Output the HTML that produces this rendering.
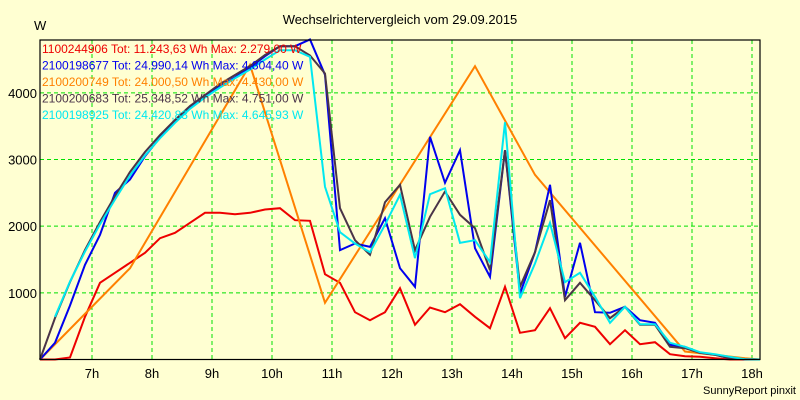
<!DOCTYPE html>
<html><head><meta charset="utf-8"><style>
html,body{margin:0;padding:0;background:#ffffd2;}
svg{display:block;font-family:"Liberation Sans",sans-serif;}
</style></head><body>
<svg id="chart" width="800" height="400" viewBox="0 0 800 400">
<rect x="0" y="0" width="800" height="400" fill="#ffffd2"/>
<text x="400" y="24" text-anchor="middle" font-size="13" fill="#000">Wechselrichtervergleich vom 29.09.2015</text>
<text x="34" y="30" font-size="13" fill="#000">W</text>
<g id="grid"></g>
<g id="yticks"></g>
<g id="xticks"></g>
<g id="series"></g>
<rect x="40" y="40" width="720" height="319.5" fill="none" stroke="#000" stroke-width="1.2"/>
<g id="legend"></g>
<text x="796" y="394" text-anchor="end" font-size="11" fill="#000">SunnyReport pinxit</text>
</svg>
<script>
const hourTicks = [7,8,9,10,11,12,13,14,15,16,17,18];
const hourLabels = ["7h","8h","9h","10h","11h","12h","13h","14h","15h","16h","17h","18h"];
const yTicks = [1000,2000,3000,4000];
const yLabels = ["1000","2000","3000","4000"];
// sample times in hours (15 min steps from 6:08)
const startHour = 6 + 8/60;
const stepHour = 0.25;
const red = [0,0,30,640,1150,1300,1450,1600,1820,1900,2050,2200,2200,2180,2200,2250,2270,2090,2080,1280,1150,710,590,710,1070,520,780,710,830,640,470,1090,400,440,770,320,550,490,230,440,230,260,80,50,40,20,0,0,0];
const blue = [0,250,810,1420,1870,2500,2700,3050,3330,3560,3770,3940,4100,4230,4380,4550,4700,4700,4800,4270,1640,1740,1690,2120,1370,1090,3340,2650,3140,1670,1240,3140,990,1610,2620,940,1750,710,700,790,590,550,220,190,100,70,20,5,0];
const orange = [0,null,null,null,null,null,1370,null,null,null,null,null,null,null,4420,null,null,null,null,850,null,null,null,null,null,null,null,null,null,4400,null,null,null,2770,null,null,null,null,null,null,null,null,null,120,null,null,null,20,0];
const dark = [0,622,1162,1642,2062,2452,2812,3112,3367,3592,3802,3967,4132,4267,4402,4567,4700,4700,4560,4290,2270,1790,1570,2360,2620,1640,2140,2520,2170,1970,1340,3140,1090,1610,2390,890,1150,890,620,790,520,520,190,170,100,70,20,5,0];
const cyan = [null,640,1170,1620,2030,2400,2760,3060,3320,3550,3760,3930,4080,4220,4350,4500,4640,4640,4540,2590,1910,1740,1610,2020,2470,1520,2480,2570,1750,1790,1460,3560,920,1440,2050,1160,1300,940,550,790,530,530,250,190,110,80,40,5,0];
const seriesNames = ["1100244906","2100198677","2100200749","2100200683","2100198925"];
const legendTexts = ["1100244906 Tot: 11.243,63 Wh Max: 2.279,00 W","2100198677 Tot: 24.990,14 Wh Max: 4.804,40 W","2100200749 Tot: 24.000,50 Wh Max: 4.430,00 W","2100200683 Tot: 25.348,52 Wh Max: 4.751,00 W","2100198925 Tot: 24.420,83 Wh Max: 4.645,93 W"];

const NS = "http://www.w3.org/2000/svg";
const X0 = 40, HOUR_PX = 60, Y0 = 359.5, PX_PER_W = 1/15;
function xScale(h){ return X0 + (h - startHour) * HOUR_PX; }
function yScale(v){ return Y0 - v * PX_PER_W; }
function mk(tag, attrs, parent){ const e = document.createElementNS(NS, tag); for (const k in attrs) e.setAttribute(k, attrs[k]); parent.appendChild(e); return e; }

const grid = document.getElementById('grid');
const yt = document.getElementById('yticks');
const xt = document.getElementById('xticks');
hourTicks.forEach((h, i) => {
  const x = xScale(h);
  const l = mk('line', {x1:x, x2:x, y1:40, y2:359.5, stroke:'#00e000', 'stroke-width':1, 'stroke-dasharray':'4,3'}, grid);
  
  
  const t = mk('text', {x:x, y:378, 'text-anchor':'middle', 'font-size':13, fill:'#000'}, xt);
  t.textContent = hourLabels[i];
  
  
});
yTicks.forEach((v, i) => {
  const y = yScale(v);
  const l = mk('line', {x1:40, x2:760, y1:y, y2:y, stroke:'#00e000', 'stroke-width':1, 'stroke-dasharray':'4,3'}, grid);
  
  
  const t = mk('text', {x:37, y:y+5, 'text-anchor':'end', 'font-size':13, fill:'#000'}, yt);
  t.textContent = yLabels[i];
  
  
});

const sg = document.getElementById('series');
const allSeries = [red, blue, orange, dark, cyan];
const colors = ['#ee0000','#0000ee','#ff8000','#4a3448','#00e8f0'];
const drawOrder = [0,2,1,3,4];
drawOrder.forEach(si => {
  const data = allSeries[si];
  const pts = [];
  data.forEach((v, k) => { if (v !== null) pts.push(xScale(startHour + k*stepHour).toFixed(1) + ',' + yScale(v).toFixed(1)); });
  const p = mk('polyline', {points: pts.join(' '), fill:'none', stroke:colors[si], 'stroke-width':2, 'stroke-linejoin':'miter'}, sg);
  
  
});

const lg = document.getElementById('legend');
legendTexts.forEach((txt, i) => {
  const t = mk('text', {x:42, y:53 + i*16.5, 'font-size':12, fill:colors[i]}, lg);
  t.textContent = txt;
  
  
});
</script>
</body></html>
